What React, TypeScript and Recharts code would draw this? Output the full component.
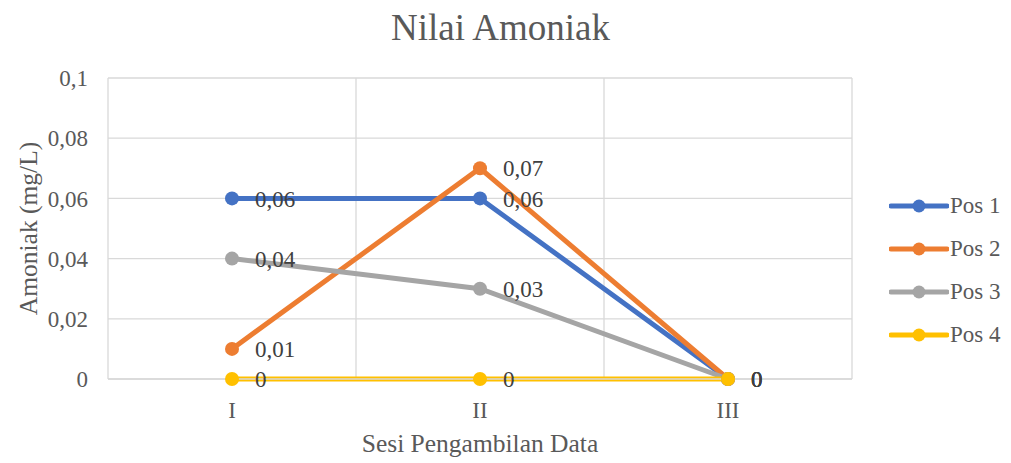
import React from 'react';
import { LineChart, Line, XAxis, YAxis, CartesianGrid, Legend, LabelList, Label } from 'recharts';

const categories = ['I', 'II', 'III'];
const pos1 = [0.06, 0.06, 0];
const pos2 = [0.01, 0.07, 0];
const pos3 = [0.04, 0.03, 0];
const pos4 = [0, 0, 0];
const seriesNames = ['Pos 1', 'Pos 2', 'Pos 3', 'Pos 4'];
const seriesColors = ['#4472C4', '#ED7D31', '#A5A5A5', '#FFC000'];
const yTicks = [0, 0.02, 0.04, 0.06, 0.08, 0.1];
const gridTicks = [0, 1, 2, 3];

const seriesValues = [pos1, pos2, pos3, pos4];
const data = categories.map((c, i) => {
  const row: any = { cat: c };
  seriesNames.forEach((n, k) => { row[n] = seriesValues[k][i]; });
  return row;
});

const FONT = '"Liberation Serif", "Times New Roman", serif';
const fmt = (v: any) => String(v).replace('.', ',');

const W = 1011;
const H = 463;
const PLOT_LEFT = 108;
const PLOT_RIGHT = 852;
const PLOT_TOP = 78;
const PLOT_BOTTOM = 379;
const bandPad = (PLOT_RIGHT - PLOT_LEFT) / categories.length / 2;

const renderLegend = () => (
  <div style={{ fontFamily: FONT, fontSize: 23, color: '#595959' }}>
    {seriesNames.map((n, i) => (
      <div key={n} style={{ display: 'flex', alignItems: 'center', height: 43 }}>
        <svg width={60} height={16} style={{ display: 'block' }}>
          <line x1={2} y1={8} x2={58} y2={8} stroke={seriesColors[i]} strokeWidth={5} strokeLinecap="round" />
          <circle cx={30} cy={8} r={6.5} fill={seriesColors[i]} />
        </svg>
        <span style={{ marginLeft: 1 }}>{n}</span>
      </div>
    ))}
  </div>
);

export default function App() {
  return (
    <div style={{ position: 'absolute', left: 0, top: 0, width: W, height: H, background: '#fff' }}>
      <div style={{ position: 'absolute', left: 0, top: 6, width: W - 10, textAlign: 'center', fontFamily: FONT, fontSize: 37, lineHeight: '44px', color: '#595959' }}>
        Nilai Amoniak
      </div>
      <LineChart
        width={W}
        height={H}
        data={data}
        margin={{ top: PLOT_TOP, right: W - PLOT_RIGHT, bottom: 0, left: 0 }}
        style={{ position: 'absolute', left: 0, top: 0 }}
      >
        <XAxis xAxisId="grid" type="number" dataKey={() => 0} domain={[0, 3]} ticks={gridTicks} hide allowDataOverflow />
        <CartesianGrid xAxisId="grid" stroke="#d9d9d9" strokeWidth={1.3} />
        <XAxis
          dataKey="cat"
          height={H - PLOT_BOTTOM}
          padding={{ left: bandPad, right: bandPad }}
          axisLine={{ stroke: '#d9d9d9', strokeWidth: 1.3 }}
          tickLine={false}
          tickMargin={17}
          tick={{ fontFamily: FONT, fontSize: 23, fill: '#595959' }}
        >
          <Label value="Sesi Pengambilan Data" position="insideBottom" offset={11} style={{ fontFamily: FONT, fontSize: 25.5, fill: '#595959' }} />
        </XAxis>
        <YAxis
          width={PLOT_LEFT}
          domain={[0, 0.1]}
          ticks={yTicks}
          tickFormatter={fmt}
          axisLine={false}
          tickLine={false}
          tickMargin={14}
          tick={{ fontFamily: FONT, fontSize: 23, fill: '#595959' }}
        >
          <Label value="Amoniak (mg/L)" angle={-90} position="insideLeft" offset={28} style={{ textAnchor: 'middle', fontFamily: FONT, fontSize: 25.5, fill: '#595959' }} />
        </YAxis>
        <Legend
          layout="vertical"
          align="center"
          verticalAlign="middle"
          content={renderLegend}
          wrapperStyle={{ left: 889, top: 184, width: 120 }}
        />
        {seriesNames.map((n, i) => (
          <Line
            key={n}
            dataKey={n}
            type="linear"
            stroke={seriesColors[i]}
            strokeWidth={5}
            dot={{ r: 7, fill: seriesColors[i], stroke: seriesColors[i], strokeWidth: 0 }}
            activeDot={false}
            isAnimationActive={false}
          >
            <LabelList dataKey={n} position="right" offset={23} formatter={fmt} style={{ fontFamily: FONT, fontSize: 23, fill: '#404040' }} />
          </Line>
        ))}
      </LineChart>
    </div>
  );
}
